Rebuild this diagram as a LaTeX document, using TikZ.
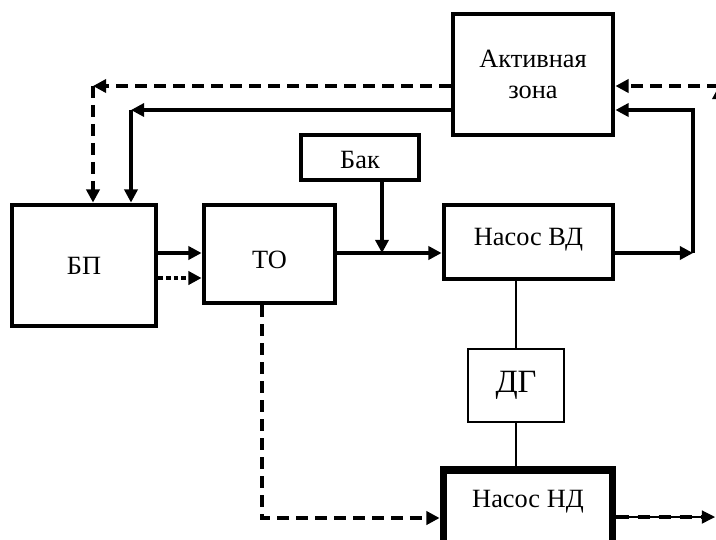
\documentclass[tikz,border=0pt]{standalone}
\usepackage{fontspec}
\setmainfont{Liberation Serif}
\usetikzlibrary{positioning, arrows.meta, calc}

\begin{document}
\begin{tikzpicture}[
  % picture units: one unit = one pixel of the sketch, y grows downwards
  x=0.02cm, y=-0.02cm,
  % arrow styles
  >={Triangle[length=7.5pt, width=7.5pt]},
  % block style
  block/.style={
    draw, line width=2.8pt, inner sep=0pt,
    font=\fontsize{15}{17.6}\selectfont, align=center
  },
  % connector styles
  flow/.style={line width=1.8pt},
  dflow/.style={line width=2.2pt, dash pattern=on 6.8pt off 4pt},
  pflow/.style={line width=2.3pt, dash pattern=on 2.6pt off 1.7pt},
  link/.style={line width=0.7pt}
]

\clip (0,0) rectangle (716,539);

% ─── Blocks ─────────────────────────────────────────────────────────────────
\node[block, minimum width=3.2cm, minimum height=2.42cm] (az_box)
  at (533, 74.5) {Активная\\зона};

\node[block, minimum width=2.36cm, minimum height=0.9cm,
      text height=13pt, text depth=0pt] (bak_box)
  at (360, 157.5) {Бак};

\node[block, minimum width=2.88cm, minimum height=2.42cm] (bp_box)
  at (84, 265.5) {БП};

\node[block, minimum width=2.62cm, minimum height=1.96cm,
      text height=17pt, text depth=0pt] (to_box)
  at (269.5, 254) {ТО};

\node[block, minimum width=3.38cm, minimum height=1.48cm,
      text height=10pt, text depth=6.6pt] (nvd_box)
  at (528.5, 242) {Насос ВД};

\node[block, line width=0.7pt, minimum width=1.92cm, minimum height=1.46cm,
      font=\fontsize{18.5}{22}\selectfont,
      text height=12.5pt, text depth=4pt] (dg_box)
  at (516, 385.5) {ДГ};

\node[block, line width=4.5pt, minimum width=3.38cm, minimum height=1.48cm,
      text height=10pt, text depth=10pt] (nnd_box)
  at (528, 507) {Насос НД};

% ─── Corner points ──────────────────────────────────────────────────────────
\coordinate (dash_corner) at (93, 86);
\coordinate (ret_corner) at (131, 110);
\coordinate (mix) at (382, 253);
\coordinate (hp_out) at (693, 253);
\coordinate (hp_up) at (693, 110);
\coordinate (dash_right) at (719, 86);
\coordinate (dash_right_low) at (719, 300);
\coordinate (to_down) at (262, 518);
\coordinate (lp_out) at (715, 517);

% ─── Return lines from the core to БП ───────────────────────────────────────
\draw[dflow, ->] (az_box.west |- dash_corner) -- (dash_corner);
\draw[dflow, ->] (dash_corner) -- (dash_corner |- bp_box.north);
\draw[flow, ->] (az_box.west |- ret_corner) -- (ret_corner);
\draw[flow, ->] (ret_corner) -- (ret_corner |- bp_box.north);

% ─── БП -> ТО -> Насос ВД ───────────────────────────────────────────────────
\draw[flow, ->] (bp_box.east |- mix) -- (to_box.west |- mix);
\draw[pflow, ->] (bp_box.east |- 0,278) -- (to_box.west |- 0,278);
\draw[flow, ->] (to_box.east |- mix) -- (nvd_box.west |- mix);
\draw[flow, ->] (mix |- bak_box.south) -- (mix);

% ─── Насос ВД -> core ───────────────────────────────────────────────────────
\draw[flow, ->] (nvd_box.east |- hp_out) -- (hp_out);
\draw[flow, ->] (hp_out) -- (hp_up) -- (az_box.east |- hp_up);
\draw[dflow, ->] (dash_right) -- (az_box.east |- dash_right);
\draw[dflow, ->] (dash_right_low) -- (dash_right);

% ─── ТО -> Насос НД ─────────────────────────────────────────────────────────
\draw[dflow, ->] (to_down |- to_box.south) -- (to_down) -- (nnd_box.west |- to_down);

% ─── ДГ shaft ───────────────────────────────────────────────────────────────
\draw[link] (dg_box.north |- nvd_box.south) -- (dg_box.north);
\draw[link] (dg_box.south) -- (dg_box.south |- nnd_box.north);

% ─── Насос НД outlet ────────────────────────────────────────────────────────
\draw[link, ->] (nnd_box.east |- lp_out) -- (lp_out);
\draw[line width=2.2pt, dash pattern=on 7pt off 5pt, shorten >=7pt]
  (nnd_box.east |- lp_out) -- (lp_out);

\end{tikzpicture}
\end{document}
